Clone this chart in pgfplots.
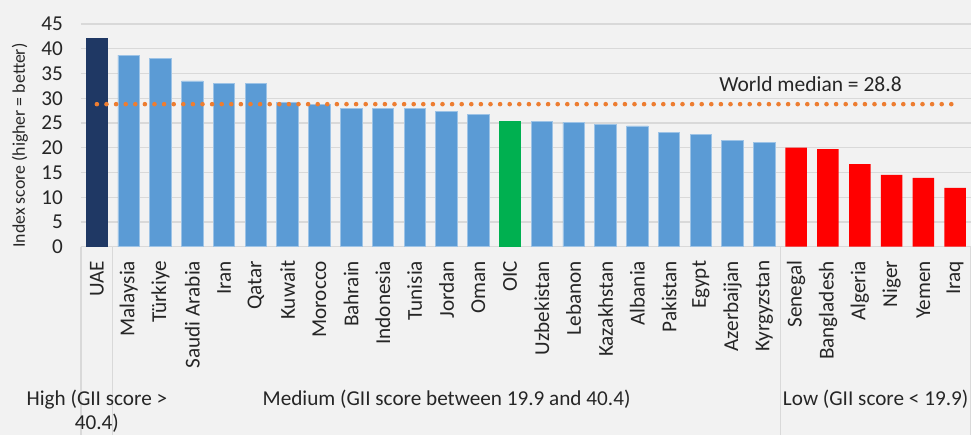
\documentclass[border=0pt]{standalone}
\usepackage{pgfplots}
\pgfplotsset{compat=1.18}
\usepackage{fontspec}
\setmainfont{Carlito}
\definecolor{bg}{HTML}{F2F2F2}
\definecolor{gridc}{HTML}{D9D9D9}
\definecolor{navy}{HTML}{1F3864}
\definecolor{blu}{HTML}{5B9BD5}
\definecolor{bluedge}{HTML}{9DC3E6}
\definecolor{grn}{HTML}{00B050}
\definecolor{rd}{HTML}{FF0000}
\definecolor{org}{HTML}{ED7D31}
\newcommand{\f}{\fontsize{21.2}{25}\selectfont}
\begin{document}
\begin{tikzpicture}
\fill[bg] (-81pt,-188.3pt) rectangle (890pt,246.7pt);
\path[use as bounding box] (-81pt,-188.3pt) rectangle (890pt,246.7pt);
\begin{axis}[
  scale only axis, width=890pt, height=222.7pt,
  xmin=-0.5, xmax=27.5, ymin=0, ymax=45,
  ytick={0,5,...,45},
  xtick={0,...,27},
  xticklabels={UAE,Malaysia,Türkiye,Saudi Arabia,Iran,Qatar,Kuwait,Morocco,Bahrain,Indonesia,Tunisia,Jordan,Oman,OIC,Uzbekistan,Lebanon,Kazakhstan,Albania,Pakistan,Egypt,Azerbaijan,Kyrgyzstan,Senegal,Bangladesh,Algeria,Niger,Yemen,Iraq},
  major tick length=0pt,
  axis line style={draw=none},
  ymajorgrids, grid style={gridc, line width=1.3pt},
  /pgf/number format/assume math mode=true,
  every tick label/.append style={font=\f, text=black!85},
  yticklabel style={inner sep=0pt, xshift=-18pt},
  xticklabel style={rotate=90, anchor=east, inner sep=0pt},
  xticklabel shift=14pt,
  ybar, bar width=21.5pt,
  clip=false,
  axis background/.style={fill=bg},
]
\addplot[fill=navy, draw=none, bar shift=0pt] coordinates {(0,42.2)};
\addplot[fill=blu, draw=bluedge, line width=0.8pt, bar shift=0pt] coordinates {
 (1,38.7)(2,38.1)(3,33.5)(4,32.9)(5,32.9)(6,29.2)(7,28.7)(8,27.9)(9,27.9)(10,27.9)(11,27.4)(12,26.7)
 (14,25.3)(15,25.1)(16,24.7)(17,24.4)(18,23.0)(19,22.7)(20,21.4)(21,21.1)};
\addplot[fill=grn, draw=none, bar shift=0pt] coordinates {(13,25.4)};
\addplot[fill=rd, draw=none, bar shift=0pt] coordinates {(22,20.0)(23,19.7)(24,16.7)(25,14.5)(26,13.9)(27,11.9)};
\addplot[sharp plot, org, line width=4.6pt, line cap=round, dash pattern=on 0pt off 9.6pt] coordinates {(0,28.8)(27,28.8)};
\node[font=\fontsize{21.5}{25}\selectfont, text=black!85] at (axis cs:22.45,32.9) {World median = 28.8};
\node[font=\fontsize{17.8}{21}\selectfont, text=black!85, rotate=90] at ([xshift=-61pt]rel axis cs:0,0.454) {Index score (higher = better)};
\draw[gridc, line width=1.3pt] (axis cs:-0.5,0) -- ([yshift=-188.3pt]axis cs:-0.5,0);
\draw[gridc, line width=1.3pt] (axis cs:0.5,0) -- ([yshift=-188.3pt]axis cs:0.5,0);
\draw[gridc, line width=1.3pt] (axis cs:21.5,0) -- ([yshift=-188.3pt]axis cs:21.5,0);
\draw[gridc, line width=1.3pt] (axis cs:27.5,0) -- ([yshift=-188.3pt]axis cs:27.5,0);
\node[font=\f, text=black!85, anchor=base] at ([yshift=-159.3pt]axis cs:0,0) {High (GII score >};
\node[font=\f, text=black!85, anchor=base] at ([yshift=-182.5pt]axis cs:0,0) {40.4)};
\node[font=\f, text=black!85, anchor=base] at ([yshift=-159.3pt]axis cs:11,0) {Medium (GII score between 19.9 and 40.4)};
\node[font=\f, text=black!85, anchor=base] at ([yshift=-159.3pt]axis cs:24.5,0) {Low (GII score < 19.9)};
\end{axis}
\end{tikzpicture}
\end{document}
